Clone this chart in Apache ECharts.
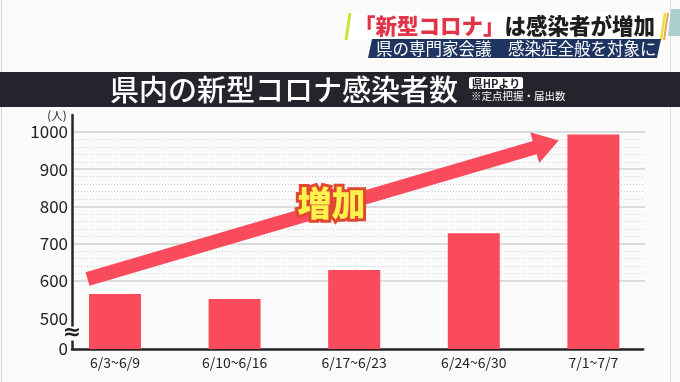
<!DOCTYPE html>
<html><head><meta charset="utf-8">
<script src="https://cdn.jsdelivr.net/npm/echarts@6/dist/echarts.min.js"></script>
<style>html,body{margin:0;padding:0;background:#fbfbfb}#c{width:680px;height:382px}</style>
</head><body><div id="c"></div>
<script>
const categories = ['6/3~6/9', '6/10~6/16', '6/17~6/23', '6/24~6/30', '7/1~7/7'];
const cases = [565, 551, 629, 728, 993];
const yTicks = [0, 500, 600, 700, 800, 900, 1000];
const arrowFrom = [-0.23, 605];
const arrowTo = [3.71, 977];
const arrowLabelAt = [1.81, 810];
const headline = ['「新型コロナ」', 'は感染者が増加'];
const subline = '県の専門家会議　感染症全般を対象に';
const title = '県内の新型コロナ感染者数';
const sourceTag = '県HPより';
const note = '※定点把握・届出数';
const unit = '(人)';

const FONT = '"Noto Sans CJK JP", "Noto Sans", sans-serif';
const RED = '#f94b5c';
const BREAK_GAP = 83;
const chart = echarts.init(document.getElementById('c'), null, {renderer: 'canvas'});

chart.setOption({
  backgroundColor: '#fbfbfb',
  animation: false,
  grid: [
    {left: 72, right: 37, top: 115, bottom: 33},
    {left: 72, right: 35, top: 132, bottom: 33},
    {left: 55.2, right: 26.8, top: 132, bottom: 33}
  ],
  xAxis: [
    {gridIndex: 0, type: 'value', z: 5, axisLine: {show: true, onZero: false, lineStyle: {color: '#262626', width: 2.5}}, axisTick: {show: false}, axisLabel: {show: false}, splitLine: {show: false}},
    {gridIndex: 1, type: 'value', show: false},
    {gridIndex: 2, type: 'category', data: categories,
      axisLine: {show: false},
      axisTick: {show: true, alignWithLabel: true, inside: true, length: 5, lineStyle: {color: '#262626', width: 2}},
      axisLabel: {color: '#222', fontSize: 14, fontFamily: FONT, margin: 7}}
  ],
  yAxis: [
    {gridIndex: 0, type: 'value', z: 5, axisLine: {show: true, lineStyle: {color: '#262626', width: 2.5}}, axisTick: {show: false}, axisLabel: {show: false}, splitLine: {show: false}},
    {gridIndex: 1, type: 'value', min: 0, max: 1000, interval: 100,
      breaks: [{start: 0, end: 500, gap: BREAK_GAP}],
      breakArea: {show: false},
      axisLine: {show: false}, axisTick: {show: false},
      axisLabel: {color: '#222', fontSize: 17, fontFamily: FONT, margin: 4,
        formatter: v => yTicks.includes(v) ? String(v) : ''},
      splitLine: {show: true, lineStyle: {color: '#d2d2d2', width: 1.5}},
      minorTick: {show: false, splitNumber: 5},
      minorSplitLine: {show: true, lineStyle: {color: '#cfcfcf', width: 1, type: [1, 2]}}
    },
    {gridIndex: 2, type: 'value', min: 500 - BREAK_GAP, max: 1000, show: false}
  ],
  series: [{
    type: 'bar', xAxisIndex: 2, yAxisIndex: 2, data: cases, barWidth: 52,
    itemStyle: {color: RED}, z: 8
  }]
});

function px(cat, val) {
  const a = chart.convertToPixel({xAxisIndex: 2}, 0);
  const b = chart.convertToPixel({xAxisIndex: 2}, 1);
  const x = a + cat * (b - a);
  const y = chart.convertToPixel({yAxisIndex: 2}, val);
  return [x, y];
}
function arrowPts(p0, p1, hw, headHw, headLen) {
  const dx = p1[0] - p0[0], dy = p1[1] - p0[1], L = Math.hypot(dx, dy);
  const ux = dx / L, uy = dy / L, nx = -uy, ny = ux;
  const bx = p1[0] - ux * headLen, by = p1[1] - uy * headLen;
  return [[p0[0] + nx * hw, p0[1] + ny * hw], [bx + nx * hw, by + ny * hw], [bx + nx * headHw, by + ny * headHw], p1,
    [bx - nx * headHw, by - ny * headHw], [bx - nx * hw, by - ny * hw], [p0[0] - nx * hw, p0[1] - ny * hw]];
}
const p0 = px(arrowFrom[0], arrowFrom[1]);
const p1 = px(arrowTo[0], arrowTo[1]);
const lbl = px(arrowLabelAt[0], arrowLabelAt[1]);
const yZero = chart.convertToPixel({yAxisIndex: 1}, 0);
const y500 = chart.convertToPixel({yAxisIndex: 1}, 500);
const axisX = chart.convertToPixel({xAxisIndex: 0}, chart.getModel().getComponent('xAxis', 0).axis.scale.getExtent()[0]);
const breakY = (yZero + y500) / 2;

chart.setOption({
  graphic: [
    {type: 'line', shape: {x1: 1.5, y1: 0, x2: 1.5, y2: 382}, style: {stroke: '#d9d9d9', lineWidth: 1}, z: -5},
    {type: 'line', shape: {x1: 670.5, y1: 0, x2: 670.5, y2: 382}, style: {stroke: '#dedede', lineWidth: 1}, z: -5},
    {type: 'polygon', shape: {points: [[349, 12], [669, 12], [665, 40], [345, 40]]}, style: {fill: '#ffffff'}, z: 1},
    {type: 'line', shape: {x1: 350, y1: 13, x2: 346, y2: 40}, style: {stroke: '#cde43a', lineWidth: 3}, z: 2},
    {type: 'line', shape: {x1: 665, y1: 13, x2: 661, y2: 40}, style: {stroke: '#e6e23c', lineWidth: 2.5}, z: 2},
    {type: 'line', shape: {x1: 668, y1: 13, x2: 664, y2: 40}, style: {stroke: '#f0a45a', lineWidth: 2}, z: 2},
    {type: 'polygon', shape: {points: [[671, 9], [680, 9], [680, 36], [668, 36]]}, style: {fill: '#aacfce'}, z: 1},
    {type: 'text', x: 354, y: 26, style: {
      text: '{r|' + headline[0] + '}{k|' + headline[1] + '}', verticalAlign: 'middle', align: 'left',
      rich: {r: {fill: '#e33447', fontSize: 21.5, fontWeight: 900, fontFamily: FONT},
             k: {fill: '#1e1e1e', fontSize: 21.5, fontWeight: 900, fontFamily: FONT}}}, z: 3},
    {type: 'polygon', shape: {points: [[372, 39], [661, 39], [657, 58], [368, 58]]}, style: {fill: '#1e3461'}, z: 2},
    {type: 'text', x: 376, y: 48.5, style: {text: subline, fill: '#ffffff', fontSize: 16.5, fontFamily: FONT, verticalAlign: 'middle', align: 'left'}, z: 3},
    {type: 'rect', shape: {x: 0, y: 72, width: 680, height: 35}, style: {fill: '#23242c'}, z: 1},
    {type: 'text', x: 284, y: 90, style: {text: title, fill: '#ffffff', fontSize: 29, fontWeight: 500, fontFamily: FONT, align: 'center', verticalAlign: 'middle'}, z: 3},
    {type: 'rect', shape: {x: 469, y: 77, width: 54, height: 12, r: 2}, style: {fill: '#ffffff'}, z: 2},
    {type: 'text', x: 496, y: 83.5, style: {text: sourceTag, fill: '#23242c', fontSize: 11, fontWeight: 'bold', fontFamily: FONT, align: 'center', verticalAlign: 'middle'}, z: 3},
    {type: 'text', x: 471, y: 96, style: {text: note, fill: '#ffffff', fontSize: 10.5, fontFamily: FONT, align: 'left', verticalAlign: 'middle'}, z: 3},
    {type: 'text', x: 57, y: 116, style: {text: unit, fill: '#222', fontSize: 11.5, fontFamily: FONT, align: 'center', verticalAlign: 'middle'}, z: 3},
    {type: 'rect', shape: {x: axisX - 6, y: breakY - 7, width: 12, height: 14}, style: {fill: '#ffffff'}, z: 20},
    {type: 'text', x: axisX, y: breakY, style: {text: '≈', fill: '#222', fontSize: 22, fontWeight: 'bold', fontFamily: 'DejaVu Sans', align: 'center', verticalAlign: 'middle'}, z: 21},
    {type: 'polygon', shape: {points: arrowPts(p0, p1, 7, 16, 25)}, style: {fill: RED}, z: 10},
    {type: 'text', x: lbl[0], y: lbl[1], style: {text: '増加', fill: '#fff24d', stroke: '#e0482f', lineWidth: 6, fontSize: 34, fontWeight: 900, fontFamily: FONT, align: 'center', verticalAlign: 'middle'}, z: 11}
  ]
});
</script>
</body></html>
